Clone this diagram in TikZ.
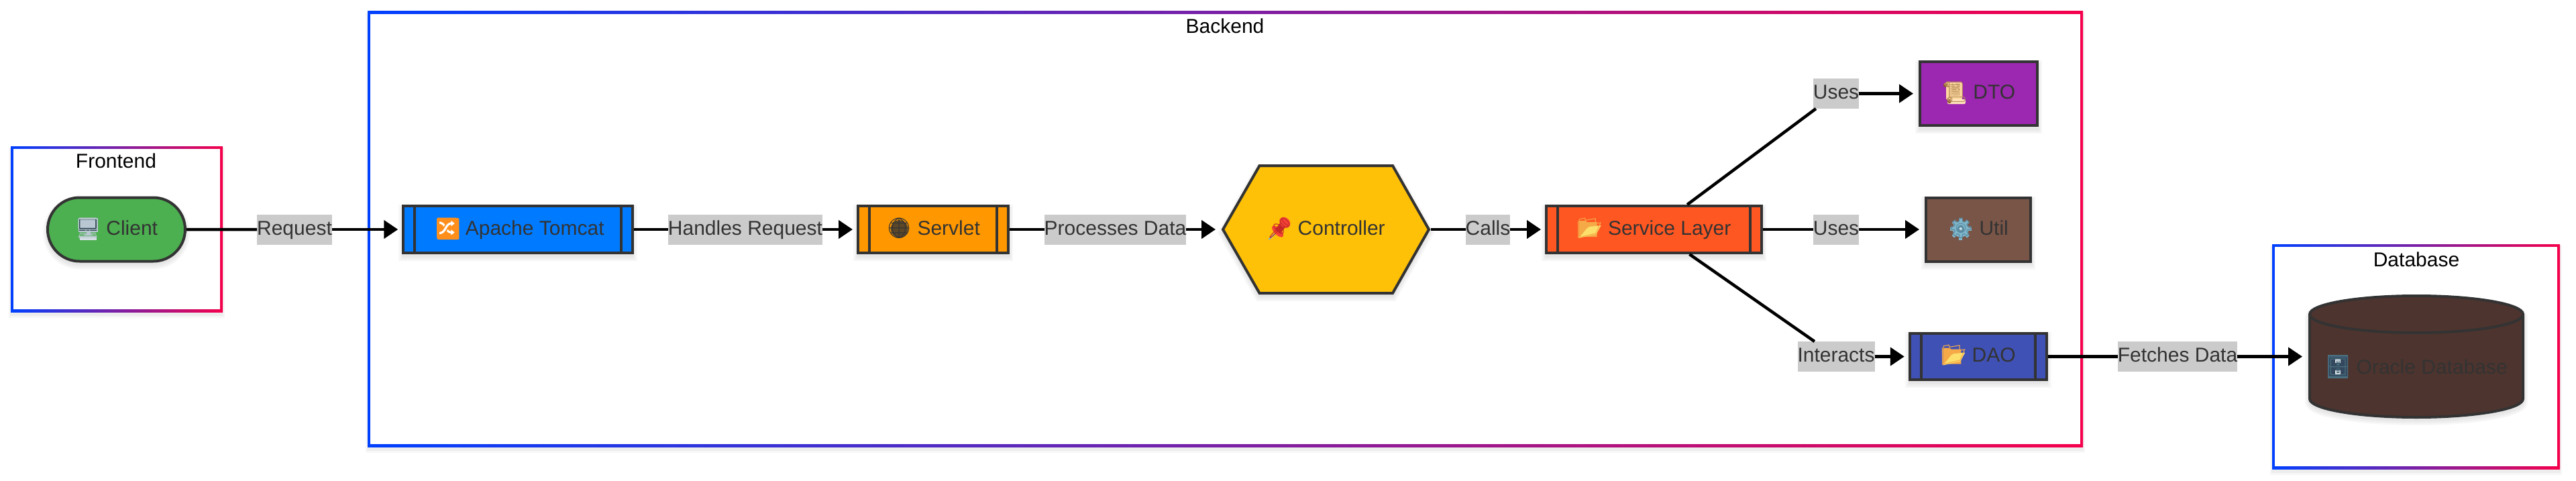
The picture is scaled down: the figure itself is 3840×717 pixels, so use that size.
\documentclass[tikz,border=0pt]{standalone}
\usepackage{fontspec}
\setmainfont{Liberation Sans}
\newfontfamily\emojifont{Noto Emoji}
\usetikzlibrary{arrows.meta,shapes.misc}
\definecolor{ink}{HTML}{333333}
\definecolor{gradblue}{HTML}{0040FF}
\definecolor{gradred}{HTML}{F5004C}
\definecolor{cgreen}{HTML}{4CAF50}
\definecolor{cblue}{HTML}{007BFF}
\definecolor{corange}{HTML}{FF9800}
\definecolor{cyellow}{HTML}{FFC107}
\definecolor{cservice}{HTML}{FF5722}
\definecolor{cpurple}{HTML}{9C27B0}
\definecolor{cbrown}{HTML}{795548}
\definecolor{cindigo}{HTML}{3F51B5}
\definecolor{cdark}{HTML}{4E342E}
\definecolor{lab}{HTML}{CBCBCB}
\definecolor{foldback}{HTML}{F5A947}
\definecolor{foldfront}{HTML}{FDE06B}
\definecolor{paper}{HTML}{FDD9A0}
\definecolor{roll}{HTML}{8B5A2B}
\definecolor{gearc}{HTML}{7FB6CB}
\definecolor{geard}{HTML}{5A8A9F}
\definecolor{pinr}{HTML}{F44336}
\definecolor{pind}{HTML}{C62828}
\definecolor{frame}{HTML}{B8C7D1}
\definecolor{screen}{HTML}{2F4550}
\definecolor{cab}{HTML}{34495E}
\definecolor{cabb}{HTML}{4A7080}
\definecolor{swapc}{HTML}{FF8F1A}
% #1 = drawing behind the glyph, #2 = glyph colour, #3 = glyph
\newcommand{\emo}[3]{\makebox[0pt][l]{\tikz[baseline=0pt,x=1pt,y=1pt]{\useasboundingbox (0,0); #1}}{\emojifont\textcolor{#2}{#3}}}
\newcommand{\foldericon}{%
  \fill[foldback] (3,-3) -- (3,19) -- (5,21) -- (13,21) -- (15,19) -- (30,19) -- (30,-3) -- cycle;
  \fill[foldfront] (17,12) -- (36,14) -- (29,1) -- (3,-5) -- cycle;}
\newcommand{\desktopicon}{%
  \fill[frame] (4.7,25.5) rectangle (33.7,4.5);
  \fill[screen] (6.5,23.5) rectangle (31.7,6);
  \fill[frame] (16.7,4.5) rectangle (22.7,1);
  \fill[frame] (13,1) rectangle (26,-1);
  \fill[frame!60!white] (6.7,-2.5) rectangle (31.7,-7.5);}
\newcommand{\swapicon}{%
  \fill[swapc,rounded corners=2pt] (4,-7) rectangle (37,25);
  \fill[white] (8,-3) rectangle (33,21);}
\newcommand{\globeicon}{\fill[ink!80!corange] (19.5,9) circle[radius=13];}
\newcommand{\pinicon}{%
  \draw[gearc,line width=2pt] (3,-7) -- (16,5);
  \fill[pinr,rotate around={-45:(16.3,5)}] (16.3,5) ellipse[x radius=11,y radius=5];
  \fill[pind] (12.8,8.5) -- (19.8,1.5) -- (30.5,14.8) -- (23.5,21.8) -- cycle;
  \fill[pinr,rotate around={-45:(27,18.3)}] (27,18.3) ellipse[x radius=9,y radius=7];}
\newcommand{\scrollicon}{%
  \fill[paper] (6,24.5) rectangle (30,-.5);
  \foreach \yy in {3,6,...,21} {\draw[roll!50!paper,line width=1pt] (11,\yy) -- (27,\yy);}
  \fill[paper!70!white,rounded corners=2pt] (8,-.5) rectangle (35,-7.5);
  \fill[roll] (5,20.5) circle[radius=3];
  \fill[roll] (11,-3.5) circle[radius=3];}
\newcommand{\gearicon}{%
  \foreach \aa in {0,45,...,315} {\fill[gearc,rotate around={\aa:(18.5,8.5)}] (16,8.5) rectangle (21,24.5);}
  \fill[gearc] (18.5,8.5) circle[radius=12];
  \fill[geard] (18.5,8.5) circle[radius=5.5];
  \fill[gearc!40!white] (18.5,8.5) circle[radius=2.5];}
\newcommand{\cabineticon}{%
  \fill[cab] (4.4,-6) rectangle (33.4,27);
  \draw[cabb,line width=1.5pt] (4.4,-6) rectangle (33.4,27);
  \draw[cabb,line width=1.5pt] (4.4,10.5) -- (33.4,10.5);
  \fill[white!85!cab] (15,16) rectangle (23,22);
  \fill[white!85!cab] (15,-1) rectangle (23,5);}
\tikzset{
  softshadow/.style={
    preaction={draw=black,draw opacity=.03,line width=14pt,transform canvas={yshift=-5pt}},
    preaction={draw=black,draw opacity=.03,line width=9pt,transform canvas={yshift=-5pt}},
    preaction={draw=black,draw opacity=.03,line width=5pt,transform canvas={yshift=-4pt}}},
  labelfont/.style={text height=22pt,text depth=6pt,font=\fontsize{30}{36}\selectfont},
  nodebox/.style={draw=ink,line width=4pt,inner sep=0pt,text=ink,labelfont,softshadow},
  plainbox/.style={nodebox,rectangle},
  subproc/.style={nodebox,rectangle,path picture={
    \draw[ink,line width=4pt] ([xshift=17pt]path picture bounding box.north west) -- ([xshift=17pt]path picture bounding box.south west);
    \draw[ink,line width=4pt] ([xshift=-17pt]path picture bounding box.north east) -- ([xshift=-17pt]path picture bounding box.south east);}},
  ghost/.style={inner sep=0pt,outer sep=0pt,text=ink,labelfont},
  edgelabel/.style={fill=lab,inner xsep=0pt,inner ysep=0pt,outer sep=0pt,minimum height=45pt,text=ink,labelfont},
  clusterlabel/.style={inner sep=0pt,text=black,labelfont},
  wire/.style={draw=black,line width=4.5pt},
  arrowwire/.style={wire,-{Triangle[length=21pt,width=27pt]},shorten >=#1},
  clustershade/.style={left color=gradblue,right color=gradred,draw=none},
}
\newcommand{\cluster}[4]{%
  \fill[black,opacity=.03] (#1-3,#3+2) rectangle (#2+3,#4+9);
  \fill[black,opacity=.04] (#1-1,#3+2) rectangle (#2+1,#4+6);
  \shade[clustershade] (#1,#3) rectangle (#2,#4);
  \fill[white] (#1+4,#3+4) rectangle (#2-4,#4-4);
}
\begin{document}
\begin{tikzpicture}[x=1pt,y=-1pt]
\useasboundingbox (0,0) rectangle (3840,717);
\fill[white] (0,0) rectangle (3840,717);
% clusters
\cluster{16}{332}{218}{465}
\cluster{548}{3105}{17}{666}
\cluster{3387}{3816}{364}{699}
\node[clusterlabel] (frontendlabel) at (173,242.5) {Frontend};
\node[clusterlabel] (backendlabel) at (1826,41) {Backend};
\node[clusterlabel] (databaselabel) at (3602,389) {Database};
% nodes
\node[nodebox,rounded rectangle,fill=cgreen,minimum width=205pt,minimum height=95pt] (client) at (173.5,342) {\emo{\desktopicon}{frame}{🖥} Client};
\node[subproc,fill=cblue,minimum width=341.5pt,minimum height=70pt] (tomcat) at (772,342) {\hspace*{4pt}\emo{\swapicon}{swapc}{🔀} Apache Tomcat};
\node[subproc,fill=corange,minimum width=224pt,minimum height=70pt] (servlet) at (1391,342) {\emo{\globeicon}{ink}{🌐} Servlet};
\draw[line width=4pt,draw=ink,fill=cyellow,line join=miter,softshadow] (1823,342) -- (1877.5,247) -- (2076,247) -- (2130,342) -- (2076,437) -- (1877.5,437) -- cycle;
\node[ghost,minimum width=313pt,minimum height=195pt] (controller) at (1976.5,342) {\emo{\pinicon}{pind}{📌} Controller};
\node[subproc,fill=cservice,minimum width=321pt,minimum height=70pt] (service) at (2465.5,342) {\emo{\foldericon}{foldback}{📂} Service Layer};
\node[plainbox,fill=cpurple,minimum width=175pt,minimum height=95pt] (dto) at (2949.5,139.5) {\emo{\scrollicon}{roll!60!paper}{📜} DTO};
\node[plainbox,fill=cbrown,minimum width=156pt,minimum height=95pt] (util) at (2949,342) {\emo{\gearicon}{geard}{⚙} Util};
\node[subproc,fill=cindigo,minimum width=203.5pt,minimum height=69pt] (dao) at (2949,531.5) {\emo{\foldericon}{foldback}{📂} DAO};
% database cylinder
\draw[line width=4pt,draw=ink,fill=cdark,softshadow] (3443,468.5) arc[start angle=180,end angle=360,x radius=159,y radius=27.5] -- (3761,594.5) arc[start angle=0,end angle=180,x radius=159,y radius=27.5] -- cycle;
\draw[line width=4pt,draw=ink] (3443,468.5) arc[start angle=180,end angle=0,x radius=159,y radius=27.5];
\node[ghost,minimum width=322pt,minimum height=185pt] (db) at (3602,531.5) {};
\node[ghost] (dbtext) at (3602,549) {\emo{\cabineticon}{cabb}{🗄} Oracle Database};
% edge labels
\node[edgelabel] (lrequest) at (439,342) {Request};
\node[edgelabel] (lhandles) at (1111,342) {Handles Request};
\node[edgelabel] (lprocess) at (1662.5,342) {Processes Data};
\node[edgelabel] (lcalls) at (2218,342) {Calls};
\node[edgelabel] (luses1) at (2737,139.5) {Uses};
\node[edgelabel] (luses2) at (2737,342) {Uses};
\node[edgelabel] (linteract) at (2737,531.5) {Interacts};
\node[edgelabel] (lfetch) at (3246,531.5) {Fetches Data};
% connectors
\draw[wire] (client) -- (lrequest);
\draw[arrowwire=6pt] (lrequest) -- (tomcat);
\draw[wire] (tomcat) -- (lhandles);
\draw[arrowwire=6pt] (lhandles) -- (servlet);
\draw[wire] (servlet) -- (lprocess);
\draw[arrowwire=8pt] (lprocess) -- (controller);
\draw[wire] (controller) -- (lcalls);
\draw[arrowwire=6pt] (lcalls) -- (service);
\draw[wire] (service) -- (luses1);
\draw[arrowwire=8pt] (luses1) -- (dto);
\draw[wire] (service) -- (luses2);
\draw[arrowwire=8pt] (luses2) -- (util);
\draw[wire] (service) -- (linteract);
\draw[arrowwire=6.5pt] (linteract) -- (dao);
\draw[wire] (dao) -- (lfetch);
\draw[arrowwire=9pt] (lfetch) -- (db);
\end{tikzpicture}
\end{document}
